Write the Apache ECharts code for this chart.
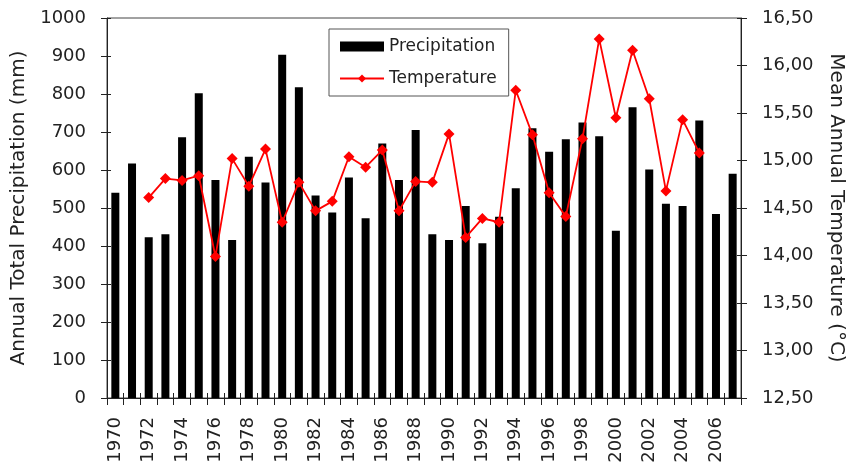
<!DOCTYPE html>
<html>
<head>
<meta charset="utf-8">
<script src="https://cdn.jsdelivr.net/npm/echarts@6/dist/echarts.min.js"></script>
<style>
  html, body { margin: 0; padding: 0; background: #fff; }
  #chart { width: 849px; height: 465px; }
</style>
</head>
<body>
<div id="chart"></div>
<script>
// Years on the category axis
const years = [
  '1970', '1971', '1972', '1973', '1974', '1975', '1976', '1977', '1978', '1979',
  '1980', '1981', '1982', '1983', '1984', '1985', '1986', '1987', '1988', '1989',
  '1990', '1991', '1992', '1993', '1994', '1995', '1996', '1997', '1998', '1999',
  '2000', '2001', '2002', '2003', '2004', '2005', '2006', '2007'
];

// Annual total precipitation (mm)
const precipitation = [
  540, 617, 423, 431, 686, 802, 574, 416, 635, 567,
  903, 818, 533, 488, 580, 473, 670, 574, 705, 431,
  416, 505, 407, 477, 552, 710, 648, 681, 725, 689,
  440, 765, 601, 511, 505, 730, 484, 590
];

// Mean annual temperature (°C); no record for 1970, 1971, 2006 and 2007
const temperature = [
  null, null, 14.61, 14.81, 14.79, 14.84, 13.99, 15.02, 14.73, 15.12,
  14.35, 14.77, 14.47, 14.57, 15.04, 14.93, 15.11, 14.47, 14.78, 14.77,
  15.28, 14.19, 14.39, 14.35, 15.74, 15.27, 14.66, 14.41, 15.23, 16.28,
  15.45, 16.16, 15.65, 14.68, 15.43, 15.08, null, null
];

const font = '"DejaVu Sans", Verdana, sans-serif';
const ink = '#222';

const chart = echarts.init(document.getElementById('chart'), null, { renderer: 'canvas' });

const precipAxis = { min: 0, max: 1000, interval: 100 };
const tempAxis = { min: 12.5, max: 16.5, interval: 0.5 };

chart.setOption({
  animation: false,
  backgroundColor: '#fff',
  grid: {
    left: 107, right: 108, top: 18, bottom: 67,
    outerBoundsMode: 'none',
    containLabel: false,
    show: true, borderColor: '#444', borderWidth: 1
  },
  legend: {
    orient: 'vertical',
    left: 329, top: 29,
    padding: [9, 12, 9, 10],
    itemGap: 15,
    itemWidth: 44, itemHeight: 10,
    borderColor: '#555', borderWidth: 1,
    textStyle: { fontFamily: font, fontSize: 17, color: ink },
    data: [
      { name: 'Precipitation', icon: 'rect' },
      { name: 'Temperature' }
    ]
  },
  xAxis: [
    {
      type: 'category',
      data: years,
      boundaryGap: true,
      axisLine: { lineStyle: { color: ink, width: 1 } },
      axisTick: { show: true, length: 7, interval: 0, lineStyle: { color: ink } },
      axisLabel: {
        interval: 1, rotate: 90, margin: 19,
        fontFamily: font, fontSize: 18, color: ink
      }
    },
    {
      type: 'category',
      data: years,
      position: 'bottom',
      boundaryGap: true,
      axisLine: { show: false },
      axisTick: { show: true, inside: true, length: 5, interval: 0, lineStyle: { color: ink } },
      axisLabel: { show: false }
    }
  ],
  yAxis: [
    Object.assign({
      type: 'value',
      position: 'left',
      name: 'Annual Total Precipitation (mm)',
      nameLocation: 'middle',
      nameRotate: 90,
      nameGap: 69,
      nameTextStyle: { fontFamily: font, fontSize: 20, color: ink },
      axisLine: { show: true, lineStyle: { color: ink } },
      axisTick: { show: true, length: 6, lineStyle: { color: ink } },
      axisLabel: {
        fontFamily: font, fontSize: 18, color: ink, margin: 21,
        formatter: v => String(v)
      },
      splitLine: { show: false }
    }, precipAxis),
    Object.assign({
      type: 'value',
      position: 'right',
      name: 'Mean Annual Temperature (°C)',
      nameLocation: 'middle',
      nameRotate: -90,
      nameGap: 85,
      nameTextStyle: { fontFamily: font, fontSize: 20, color: ink },
      axisLine: { show: true, lineStyle: { color: ink } },
      axisTick: { show: true, length: 6, lineStyle: { color: ink } },
      axisLabel: {
        fontFamily: font, fontSize: 18, color: ink, margin: 21,
        formatter: v => v.toFixed(2).replace('.', ',')
      },
      splitLine: { show: false }
    }, tempAxis),
    Object.assign({
      type: 'value',
      position: 'left',
      axisLine: { show: false },
      axisTick: { show: true, inside: true, length: 4, lineStyle: { color: ink } },
      axisLabel: { show: false },
      splitLine: { show: false }
    }, precipAxis),
    Object.assign({
      type: 'value',
      position: 'right',
      axisLine: { show: false },
      axisTick: { show: true, inside: true, length: 4, lineStyle: { color: ink } },
      axisLabel: { show: false },
      splitLine: { show: false }
    }, tempAxis)
  ],
  series: [
    {
      name: 'Precipitation',
      type: 'bar',
      xAxisIndex: 0,
      yAxisIndex: 0,
      data: precipitation,
      barWidth: 8,
      itemStyle: { color: '#000' }
    },
    {
      name: 'Temperature',
      type: 'line',
      xAxisIndex: 0,
      yAxisIndex: 1,
      data: temperature,
      symbol: 'diamond',
      symbolSize: 11,
      showAllSymbol: true,
      lineStyle: { color: '#ff0000', width: 1.8 },
      itemStyle: { color: '#ff0000' }
    }
  ]
});
</script>
</body>
</html>
